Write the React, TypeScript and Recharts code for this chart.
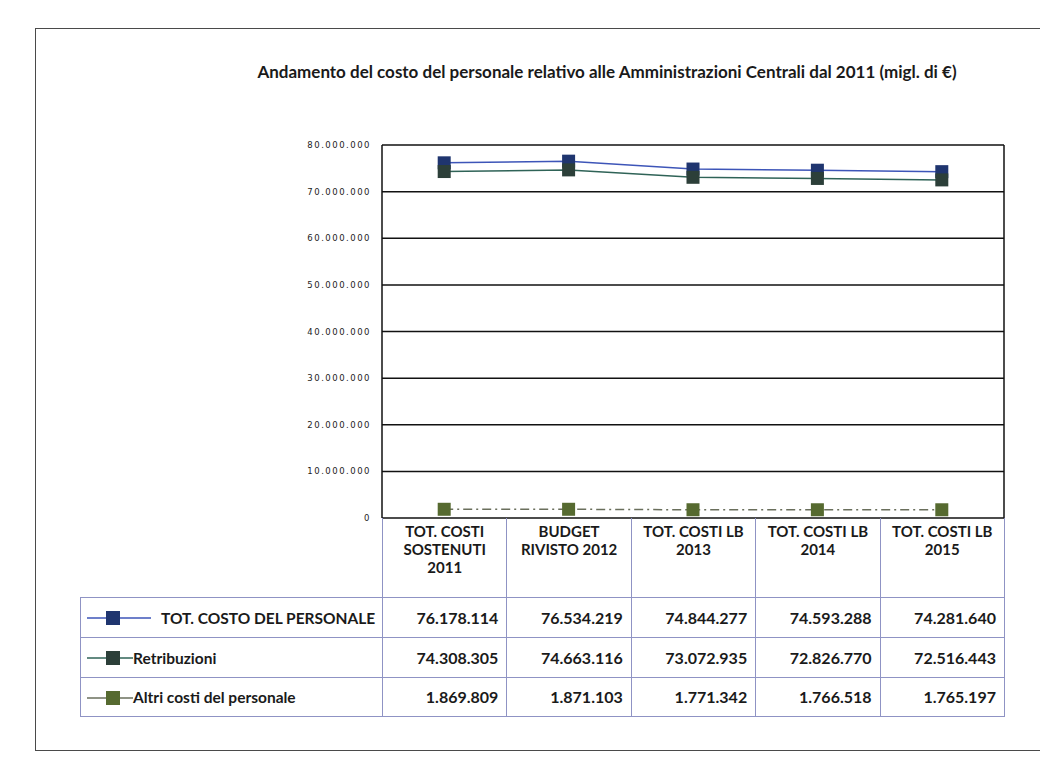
import React from "react";
import { LineChart, Line, XAxis, YAxis, CartesianGrid } from "recharts";

const categories = [
  "TOT. COSTI SOSTENUTI 2011",
  "BUDGET RIVISTO 2012",
  "TOT. COSTI LB 2013",
  "TOT. COSTI LB 2014",
  "TOT. COSTI LB 2015",
];
const categoryLines = [
  ["TOT. COSTI", "SOSTENUTI", "2011"],
  ["BUDGET", "RIVISTO 2012"],
  ["TOT. COSTI LB", "2013"],
  ["TOT. COSTI LB", "2014"],
  ["TOT. COSTI LB", "2015"],
];
const totCosto = [76178114, 76534219, 74844277, 74593288, 74281640];
const retribuzioni = [74308305, 74663116, 73072935, 72826770, 72516443];
const altriCosti = [1869809, 1871103, 1771342, 1766518, 1765197];
const yTicks = [0, 10000000, 20000000, 30000000, 40000000, 50000000, 60000000, 70000000, 80000000];

const seriesInfo = [
  { key: "tot", name: "TOT. COSTO DEL PERSONALE", values: totCosto, line: "#3d55b8", marker: "#1f356f", dash: undefined },
  { key: "retr", name: "Retribuzioni", values: retribuzioni, line: "#2f6357", marker: "#2c3f39", dash: undefined },
  { key: "altri", name: "Altri costi del personale", values: altriCosti, line: "#6a6f5c", marker: "#566a30", dash: "9 4 2 4" },
];

const data = categories.map((c, i) => ({
  cat: c,
  tot: totCosto[i],
  retr: retribuzioni[i],
  altri: altriCosti[i],
}));

const fmt = (v: number) => String(v).replace(/\B(?=(\d{3})+(?!\d))/g, ".");

const PLOT_LEFT = 382;
const PLOT_RIGHT = 1004;
const PLOT_TOP = 145;
const PLOT_BOTTOM = 518;
const W = 1040;
const H = 774;
const colW = (PLOT_RIGHT - PLOT_LEFT) / categories.length;

const squareDot = (color: string) => (props: any) => {
  const { cx, cy, index } = props;
  return <rect key={index} x={cx - 6.5} y={cy - 6.5} width={13} height={13} fill={color} />;
};

const border = "1px solid #8f93c4";
const font = "Lato, 'Open Sans', sans-serif";

function LegendKey({ line, marker, long }: any) {
  const w = long ? 64 : 46;
  return (
    <svg width={w} height={16} style={{ verticalAlign: "middle", marginLeft: 6 }}>
      <line x1={0} y1={8} x2={w} y2={8} stroke={line} strokeWidth={1.5} />
      <rect x={19} y={1} width={14} height={14} fill={marker} />
    </svg>
  );
}

export default function App() {
  return (
    <div style={{ position: "absolute", left: 0, top: 0, width: W, height: H, background: "#fff", fontFamily: font, overflow: "hidden" }}>
      <div style={{ position: "absolute", left: 35, top: 28, width: 1100, height: 723, border: "1px solid #4a4a4a", boxSizing: "border-box" }} />
      <div style={{ position: "absolute", left: 0, top: 61, width: 1214, textAlign: "center", fontWeight: 700, fontSize: 17, color: "#1a1a1a" }}>
        Andamento del costo del personale relativo alle Amministrazioni Centrali dal 2011 (migl. di €)
      </div>
      <div style={{ position: "absolute", left: 0, top: 0 }}>
        <LineChart width={W} height={H} data={data} margin={{ top: PLOT_TOP, right: W - PLOT_RIGHT - 1, bottom: H - PLOT_BOTTOM, left: 0 }}>
          <CartesianGrid vertical={false} stroke="#111" strokeWidth={1.5} />
          <XAxis dataKey="cat" hide padding={{ left: colW / 2, right: colW / 2 }} />
          <YAxis
            width={PLOT_LEFT}
            domain={[0, 80000000]}
            ticks={yTicks}
            interval={0}
            tickFormatter={fmt}
            tickLine={false}
            axisLine={{ stroke: "#111", strokeWidth: 1.5 }}
            tickMargin={5}
            tick={{ fontSize: 8.5, fill: "#222", fontFamily: "'DejaVu Sans', sans-serif", letterSpacing: 1.5 }}
          />
          <YAxis yAxisId="r" orientation="right" width={1} domain={[0, 80000000]} tick={false} tickLine={false} axisLine={{ stroke: "#111", strokeWidth: 1.5 }} />
          {seriesInfo.map((s) => (
            <Line
              key={s.key}
              dataKey={s.key}
              name={s.name}
              stroke={s.line}
              strokeWidth={1.5}
              strokeDasharray={s.dash}
              dot={squareDot(s.marker)}
              activeDot={false}
              isAnimationActive={false}
            />
          ))}
        </LineChart>
      </div>
      <table
        style={{
          position: "absolute",
          left: 80,
          top: PLOT_BOTTOM,
          width: PLOT_RIGHT - 80,
          borderCollapse: "collapse",
          tableLayout: "fixed",
          fontFamily: font,
          color: "#1a1a1a",
        }}
      >
        <colgroup>
          <col style={{ width: PLOT_LEFT - 80 }} />
          {categories.map((c) => (
            <col key={c} style={{ width: colW }} />
          ))}
        </colgroup>
        <tbody>
          <tr style={{ height: 79 }}>
            <td />
            {categoryLines.map((lines, i) => (
              <td
                key={i}
                style={{ borderLeft: border, borderRight: border, verticalAlign: "top", textAlign: "center", fontWeight: 700, fontSize: 15, lineHeight: "18px", paddingTop: 4 }}
              >
                {lines.map((l, j) => (
                  <div key={j}>{l}</div>
                ))}
              </td>
            ))}
          </tr>
          {seriesInfo.map((s, r) => (
            <tr key={s.key} style={{ height: r === 2 ? 39 : 40 }}>
              <td style={{ border, fontSize: 15.5, fontWeight: 700, whiteSpace: "nowrap", padding: 0 }}>
                <LegendKey line={s.line} marker={s.marker} long={r === 0} />
                <span style={{ marginLeft: r === 0 ? 10 : 0, verticalAlign: "middle" }}>{s.name}</span>
              </td>
              {s.values.map((v, i) => (
                <td key={i} style={{ border, textAlign: "right", fontSize: 16, fontWeight: 700, paddingRight: 8 }}>
                  {fmt(v)}
                </td>
              ))}
            </tr>
          ))}
        </tbody>
      </table>
    </div>
  );
}
